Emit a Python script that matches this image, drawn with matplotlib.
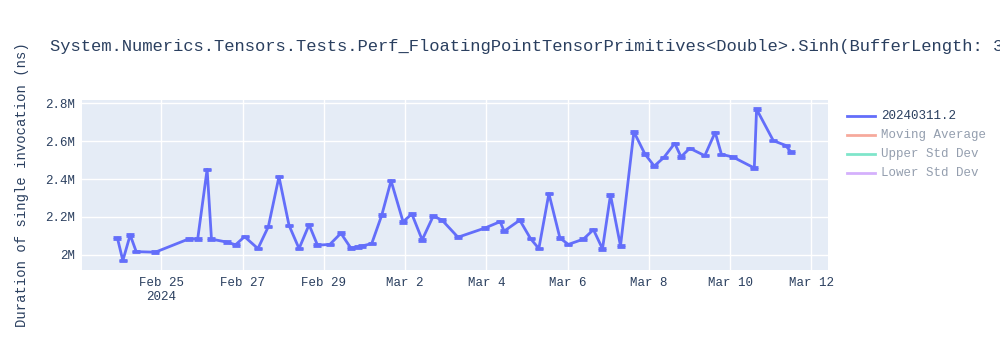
import numpy as np
import pandas as pd
import matplotlib
matplotlib.use("Agg")
import matplotlib.pyplot as plt
from matplotlib.lines import Line2D
from matplotlib.ticker import FuncFormatter

# run timestamps and measured durations (ns)
times = ["2024-02-23 22:06", "2024-02-24 01:18", "2024-02-24 05:38", "2024-02-24 09:11",
         "2024-02-24 20:27", "2024-02-25 16:11", "2024-02-25 21:30", "2024-02-26 03:04",
         "2024-02-26 05:38", "2024-02-26 14:56", "2024-02-26 19:51", "2024-02-27 01:11",
         "2024-02-27 09:04", "2024-02-27 15:14", "2024-02-27 21:30", "2024-02-28 03:26",
         "2024-02-28 09:22", "2024-02-28 15:17", "2024-02-28 20:15", "2024-02-29 03:33",
         "2024-02-29 10:05", "2024-02-29 16:00", "2024-02-29 20:10", "2024-02-29 22:31",
         "2024-03-01 04:16", "2024-03-01 10:12", "2024-03-01 15:42", "2024-03-01 22:49",
         "2024-03-02 03:58", "2024-03-02 10:05", "2024-03-02 16:35", "2024-03-02 21:45",
         "2024-03-03 07:13", "2024-03-03 23:00", "2024-03-04 08:07", "2024-03-04 10:29",
         "2024-03-04 19:44", "2024-03-05 02:04", "2024-03-05 06:59", "2024-03-05 12:55",
         "2024-03-05 19:26", "2024-03-06 00:24", "2024-03-06 09:19", "2024-03-06 15:14",
         "2024-03-06 20:34", "2024-03-07 01:18", "2024-03-07 07:13", "2024-03-07 15:07",
         "2024-03-07 21:37", "2024-03-08 03:09", "2024-03-08 08:53", "2024-03-08 15:14",
         "2024-03-08 18:58", "2024-03-09 00:07", "2024-03-09 09:00", "2024-03-09 15:07",
         "2024-03-09 18:50", "2024-03-10 01:36", "2024-03-10 14:14", "2024-03-10 15:35",
         "2024-03-11 01:29", "2024-03-11 08:46", "2024-03-11 11:59"]
duration = [2.088, 1.970, 2.105, 2.017, 2.014, 2.084, 2.084, 2.451, 2.083, 2.067,
            2.053, 2.096, 2.033, 2.149, 2.412, 2.156, 2.033, 2.159, 2.051, 2.055,
            2.114, 2.035, 2.042, 2.047, 2.059, 2.209, 2.391, 2.174, 2.216, 2.079,
            2.204, 2.184, 2.093, 2.141, 2.175, 2.125, 2.183, 2.086, 2.033, 2.323,
            2.089, 2.055, 2.083, 2.133, 2.032, 2.316, 2.047, 2.649, 2.532, 2.468,
            2.514, 2.588, 2.517, 2.562, 2.523, 2.646, 2.530, 2.516, 2.458, 2.768,
            2.602, 2.577, 2.541]
duration = np.array(duration) * 1e6
err = np.full(len(duration), 0.004e6)

legend_names = ["20240311.2", "Moving Average", "Upper Std Dev", "Lower Std Dev"]
legend_colors = ["#636efa", "#EF553B", "#00cc96", "#ab63fa"]

title = "System.Numerics.Tensors.Tests.Perf_FloatingPointTensorPrimitives<Double>.Sinh(BufferLength: 3"
font = "Liberation Mono"
txt = "#2a3f5f"

x = pd.to_datetime(times)

fig = plt.figure(figsize=(10, 3.5), dpi=100)
ax = fig.add_axes([0.082, 0.229, 0.746, 0.485])
ax.set_facecolor("#E5ECF6")

ax.errorbar(x, duration, yerr=err, color="#636efa", lw=2, capsize=3, capthick=2,
            elinewidth=1.5)

ax.set_xlim(pd.Timestamp("2024-02-23 01:10"), pd.Timestamp("2024-03-12 09:46"))
ax.set_ylim(1.921e6, 2.816e6)
ax.set_yticks([2.0e6, 2.2e6, 2.4e6, 2.6e6, 2.8e6])
ax.yaxis.set_major_formatter(FuncFormatter(lambda v, p: ("%.1fM" % (v / 1e6)).replace(".0M", "M")))

ticks = pd.date_range("2024-02-25", "2024-03-12", freq="2D")
ax.set_xticks(ticks)
labels = [t.strftime("%b %-d") for t in ticks]
labels[0] = labels[0] + "\n2024"
ax.set_xticklabels(labels)

ax.grid(True, color="white", lw=1)
ax.set_axisbelow(True)
for s in ax.spines.values():
    s.set_visible(False)
ax.tick_params(length=0, pad=5, labelsize=9, labelcolor=txt)
for lab in ax.get_xticklabels() + ax.get_yticklabels():
    lab.set_fontfamily(font)
    lab.set_linespacing(1.3)

fig.text(0.05, 1 - 46 / 350, title, fontsize=12.3, family=font, color=txt, va="center")
fig.text(0.022, 1 - 185 / 350, "Duration of single invocation (ns)", rotation=90,
         fontsize=10, family=font, color=txt, va="center", ha="center")

for i, (name, c) in enumerate(zip(legend_names, legend_colors)):
    yy = 1 - (116 + 19 * i) / 350
    a = 1.0 if i == 0 else 0.5
    fig.add_artist(Line2D([0.847, 0.875], [yy, yy], color=c, lw=2, alpha=a,
                          transform=fig.transFigure))
    fig.text(0.881, yy, name, fontsize=9, family=font, color=txt, alpha=a, va="center")

fig.savefig("out.png", dpi=100, facecolor="white")
